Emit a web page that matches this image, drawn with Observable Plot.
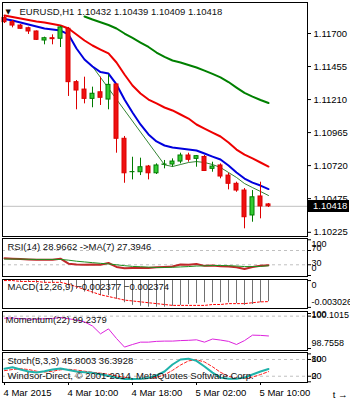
<!DOCTYPE html>
<html>
<head>
<meta charset="utf-8">
<script src="https://cdn.jsdelivr.net/npm/d3@7"></script>
<script src="https://cdn.jsdelivr.net/npm/@observablehq/plot@0.6"></script>
<style>
  html, body { margin: 0; padding: 0; background: #fff; }
  #chart { position: relative; width: 350px; height: 400px; overflow: hidden; background: #fff; }
  #chart svg { position: absolute; left: 0; }
</style>
</head>
<body>
<div id="chart"></div>
<script>
// ---------------- data ----------------
const symbol = "EURUSD,H1";
const times = [
  "2015-03-04T02:00Z","2015-03-04T03:00Z","2015-03-04T04:00Z","2015-03-04T05:00Z","2015-03-04T06:00Z",
  "2015-03-04T07:00Z","2015-03-04T08:00Z","2015-03-04T09:00Z","2015-03-04T10:00Z","2015-03-04T11:00Z",
  "2015-03-04T12:00Z","2015-03-04T13:00Z","2015-03-04T14:00Z","2015-03-04T15:00Z","2015-03-04T16:00Z",
  "2015-03-04T17:00Z","2015-03-04T18:00Z","2015-03-04T19:00Z","2015-03-04T20:00Z","2015-03-04T21:00Z",
  "2015-03-04T22:00Z","2015-03-04T23:00Z","2015-03-05T00:00Z","2015-03-05T01:00Z","2015-03-05T02:00Z",
  "2015-03-05T03:00Z","2015-03-05T04:00Z","2015-03-05T05:00Z","2015-03-05T06:00Z","2015-03-05T07:00Z",
  "2015-03-05T08:00Z","2015-03-05T09:00Z","2015-03-05T10:00Z","2015-03-05T11:00Z"
];
const open  = [1.11816,1.11784,1.11759,1.11739,1.11715,1.11648,1.11665,1.11661,1.11735,1.11339,1.11284,1.11215,1.11264,1.11210,1.11322,1.10919,1.10671,1.10671,1.10713,1.10663,1.10726,1.10728,1.10750,1.10795,1.10770,1.10784,1.10696,1.10721,1.10646,1.10585,1.10535,1.10350,1.10491,1.10432];
const high  = [1.11834,1.11796,1.11767,1.11747,1.11719,1.11673,1.11690,1.11754,1.11745,1.11351,1.11376,1.11302,1.11376,1.11394,1.11327,1.10936,1.10782,1.10775,1.10721,1.10733,1.10758,1.10770,1.10812,1.10812,1.10795,1.10795,1.10745,1.10733,1.10663,1.10597,1.10550,1.10535,1.10597,1.10439];
const low   = [1.11774,1.11742,1.11730,1.11693,1.11648,1.11616,1.11616,1.11596,1.11233,1.11134,1.11178,1.11149,1.11166,1.11134,1.10812,1.10589,1.10614,1.10646,1.10614,1.10654,1.10696,1.10708,1.10733,1.10745,1.10708,1.10676,1.10671,1.10622,1.10540,1.10522,1.10251,1.10300,1.10325,1.10409];
const close = [1.11784,1.11759,1.11735,1.11715,1.11653,1.11665,1.11658,1.11745,1.11339,1.11277,1.11215,1.11253,1.11223,1.11319,1.10919,1.10663,1.10672,1.10708,1.10663,1.10721,1.10728,1.10750,1.10795,1.10763,1.10790,1.10680,1.10713,1.10639,1.10585,1.10535,1.10337,1.10485,1.10417,1.10418];

const maBlue  = [1.11808,1.11797,1.11782,1.11767,1.11752,1.11737,1.11730,1.11722,1.11693,1.11589,1.11507,1.11455,1.11414,1.11403,1.11322,1.11210,1.11114,1.11025,1.10951,1.10899,1.10869,1.10854,1.10847,1.10839,1.10832,1.10810,1.10787,1.10765,1.10721,1.10669,1.10624,1.10594,1.10572,1.10546];
const maRed   = [1.11834,1.11822,1.11811,1.11800,1.11789,1.11782,1.11771,1.11759,1.11737,1.11693,1.11648,1.11611,1.11581,1.11552,1.11485,1.11396,1.11314,1.11255,1.11210,1.11181,1.11151,1.11129,1.11099,1.11069,1.11025,1.10995,1.10965,1.10936,1.10891,1.10839,1.10802,1.10773,1.10743,1.10713];
const maGreen = [null,null,null,null,null,null,null,null,null,null,1.11826,1.11804,1.11784,1.11763,1.11737,1.11700,1.11667,1.11633,1.11600,1.11559,1.11526,1.11500,1.11485,1.11466,1.11448,1.11425,1.11400,1.11374,1.11340,1.11299,1.11259,1.11232,1.11207,1.11184];
const thinLine = [null,null,null,null,null,null,null,null,null,null,null,1.11455,null,null,null,null,null,null,null,null,1.10726,1.10713,1.10728,1.10743,1.10750,1.10743,1.10728,1.10706,1.10669,1.10632,1.10587,1.10557,1.10528,1.10498];

const priceTicks = [1.11700, 1.11455, 1.11210, 1.10965, 1.10720, 1.10475, 1.10225];

const rsi   = [48,47,46,45,44,44,44,47,33,31,30,31,30,35,24,20,21,22,21,23,24,25,31,30,32,27,28,26,25,23,18,24,27,28.9662];
const rsiMa = [46,46,46,45.5,45,45,45,45,43,40,38,36,34,32.5,30,27.5,25.5,24.5,23.5,22.5,22.5,23,24,25,26.5,27,28,28,27.5,26.5,25,25,25.5,27.3946];
const rsiLevels = [70, 30];
const rsiTickValues = [100, 70, 30, 0];
const rsiTickLabels = ["100", "70", "30", "0"];

const macd   = [-0.0001,-0.0001,-0.0002,-0.0002,-0.0003,-0.0003,-0.0003,-0.0002,-0.0006,-0.0010,-0.0013,-0.0015,-0.0017,-0.0017,-0.0021,-0.0025,-0.0028,-0.0029,-0.0030,-0.0030,-0.0030,-0.0029,-0.0028,-0.0027,-0.0026,-0.0025,-0.0025,-0.0025,-0.0025,-0.0026,-0.0028,-0.0027,-0.0025,-0.002377];
const signal = [0.0000,-0.0000,-0.0001,-0.0001,-0.0001,-0.0002,-0.0002,-0.0002,-0.0004,-0.0007,-0.0010,-0.0013,-0.0016,-0.0018,-0.0020,-0.0022,-0.0023,-0.0024,-0.0025,-0.0026,-0.0027,-0.0028,-0.0028,-0.0028,-0.0028,-0.0028,-0.0027,-0.0027,-0.0026,-0.0026,-0.0026,-0.0025,-0.0024,-0.002374];
const macdTickValues = [0, -0.003026];
const macdTickLabels = ["0", "-0.003026"];

const momentum = [99.92,99.93,99.90,99.89,99.88,99.90,99.91,99.95,99.90,99.85,99.78,99.62,99.32,99.51,99.14,98.81,98.91,99.00,99.00,99.03,99.04,99.04,99.06,99.07,99.09,99.00,99.12,99.08,99.03,98.91,99.06,99.27,99.26,99.2379];
const momLevels = [100];
const momTickValues = [100, 100.1015, 98.7558];
const momTickLabels = ["100", "100.1015", "98.7558"];

const stochMain   = [47,52,44,37,33,38,44,48,42,37,34,32,27,22,15,10,10,11,14,23,37,62,80,83,75,55,33,15,11,11,15,26,37,45.8003];
const stochSignal = [40,44,47,44,38,35,38,43,45,42,38,34,31,27,21,16,12,10,12,16,25,41,60,75,79,71,54,34,20,12,12,17,26,36.3928];
const stochLevels = [80, 20];
const stochTickValues = [100, 80, 20, 0];
const stochTickLabels = ["100", "80", "20", "0"];

const xTickTimes  = ["2015-03-04T02:00Z","2015-03-04T10:00Z","2015-03-04T18:00Z","2015-03-05T02:00Z","2015-03-05T10:00Z"];
const xTickLabels = ["4 Mar 2015","4 Mar 10:00","4 Mar 18:00","5 Mar 02:00","5 Mar 10:00"];
const copyright = "Windsor-Direct, \u00A9 2001-2014, MetaQuotes Software Corp.";

// ---------------- rendering ----------------
const FONT = "'Liberation Sans', Arial, sans-serif";
const FS = 9.5;
const FS_R = 9;
const W = 350, ML = 2, MR = 43;
const HOUR = 3600 * 1000;
const t = times.map(s => new Date(s));
const xDomain = [new Date(+t[0] - 0.25 * HOUR), new Date(+t[0] + 37.875 * HOUR)];
const rows = t.map((d, i) => ({i, t: d, o: open[i], h: high[i], l: low[i], c: close[i]}));
const last = rows.length - 1;
const f5 = d3.format(".5f"), f4 = d3.format(".4f"), f6 = d3.format(".6f");

const BULL_FILL = "#33cc33", BULL_EDGE = "#007a00";
const BEAR_FILL = "#ee1111", BEAR_EDGE = "#dd0000";
const LEVEL = {stroke: "#c0c0c0", strokeDasharray: "3,3"};

function panel(top, height, mt, mb, y, marks, x = {}) {
  const svg = Plot.plot({
    width: W, height,
    marginLeft: ML, marginRight: MR, marginTop: mt, marginBottom: mb,
    style: {background: "transparent", fontFamily: FONT, fontSize: FS + "px", overflow: "visible"},
    x: {type: "utc", domain: xDomain, axis: null, ...x},
    y: {label: null, ...y},
    color: {type: "identity"},
    marks
  });
  svg.style.top = top + "px";
  document.getElementById("chart").appendChild(svg);
}

function title(str, dx, dy, opts = {}) {
  return Plot.text([str], {frameAnchor: "top-left", text: d => d, textAnchor: "start", lineAnchor: "middle",
    dx, dy, fill: "#111", fontSize: FS, ...opts});
}

function rightLabels(labels, values, dys) {
  return labels.map((s, i) => Plot.text([values[i]], {
    y: d => d, text: () => s, frameAnchor: "right", textAnchor: "start", lineAnchor: "middle",
    dx: 4, dy: dys[i], fill: "#000", fontSize: FS_R
  }));
}

const pick = arr => rows.filter(r => arr[r.i] != null);

// ---- main price panel ----
const lastClose = close[last];
function priceBox(index, scales, values, dims) {
  const y = scales.y(lastClose);
  const x0 = dims.width - dims.marginRight;
  const g = d3.create("svg:g");
  g.append("rect").attr("x", x0 + 1).attr("y", Math.round(y) - 6).attr("width", dims.marginRight - 2).attr("height", 12).attr("fill", "#000");
  g.append("text").attr("x", x0 + 6).attr("y", y).attr("dy", "0.35em").attr("fill", "#fff")
    .attr("text-anchor", "start").attr("font-size", FS).attr("font-family", FONT).text(f5(lastClose));
  return g.node();
}

panel(0, 237, 2, 1,
  {domain: [1.10194, 1.11930], axis: "right", ticks: priceTicks, tickFormat: f5, tickSize: 3, tickPadding: 3},
  [
    Plot.ruleY([lastClose], {stroke: "#c0c0c0"}),
    Plot.line(pick(maGreen), {x: "t", y: r => maGreen[r.i], stroke: "#008000", strokeWidth: 2}),
    Plot.line(pick(maRed), {x: "t", y: r => maRed[r.i], stroke: "#ee0000", strokeWidth: 2}),
    Plot.line(pick(thinLine), {x: "t", y: r => thinLine[r.i], stroke: "#006400", strokeWidth: 0.8}),
    Plot.line(rows, {x: "t", y: r => maBlue[r.i], stroke: "#0000dd", strokeWidth: 2}),
    Plot.ruleX(rows, {x: "t", y1: "l", y2: "h", stroke: r => r.c >= r.o ? BULL_EDGE : BEAR_EDGE, strokeWidth: 1}),
    Plot.rect(rows, {
      x1: r => new Date(+r.t - 0.25 * HOUR), x2: r => new Date(+r.t + 0.25 * HOUR),
      y1: "o", y2: "c",
      fill: r => r.c >= r.o ? BULL_FILL : BEAR_FILL,
      stroke: r => r.c >= r.o ? BULL_EDGE : BEAR_EDGE, strokeWidth: 1
    }),
    Plot.frame({stroke: "#000"}),
    title("\u25BC", 3, 9, {fontFamily: "DejaVu Sans", fontSize: 7}),
    title(`${symbol} ${f5(open[last])} ${f5(high[last])} ${f5(low[last])} ${f5(close[last])}`, 17, 9),
    priceBox
  ]);

// ---- RSI panel ----
panel(237, 41, 1, 2,
  {domain: [-2.8, 103.6], axis: "right", ticks: rsiTickValues, tickFormat: () => "", tickSize: 3},
  [
    Plot.ruleY(rsiLevels, LEVEL),
    Plot.line(rows, {x: "t", y: r => rsi[r.i], stroke: "#c0282a", strokeWidth: 2}),
    Plot.line(rows, {x: "t", y: r => rsiMa[r.i], stroke: "#1f8f1f", strokeWidth: 1}),
    Plot.frame({stroke: "#000"}),
    title(`RSI(14) ${f4(rsi[last])} ->MA(7) ${f4(rsiMa[last])}`, 5, 8),
    ...rightLabels(rsiTickLabels, rsiTickValues, [4.7, -2, -1.3, -7.5])
  ]);

// ---- MACD panel ----
panel(277, 32, 2, 1,
  {domain: [-0.00315, 0.00012], axis: "right", ticks: macdTickValues, tickFormat: () => "", tickSize: 3},
  [
    Plot.ruleX(rows, {x: "t", y1: 0, y2: r => macd[r.i], stroke: "#707070", strokeWidth: 1}),
    Plot.line(rows, {x: "t", y: r => signal[r.i], stroke: "#ff0000", strokeWidth: 1, strokeDasharray: "2,2"}),
    Plot.frame({stroke: "#000"}),
    title(`MACD(12,26,9) ${f6(macd[last])} ${f6(signal[last])}`, 5, 7),
    ...rightLabels(macdTickLabels, macdTickValues, [4.2, -5.4])
  ]);

// ---- Momentum panel ----
panel(309, 42, 2, 1,
  {domain: [98.6789, 100.1784], axis: "right", ticks: momTickValues, tickFormat: () => "", tickSize: 3},
  [
    Plot.ruleY(momLevels, LEVEL),
    Plot.line(rows, {x: "t", y: r => momentum[r.i], stroke: "#dd22dd", strokeWidth: 1}),
    Plot.frame({stroke: "#000"}),
    title(`Momentum(22) ${f4(momentum[last])}`, 3, 8),
    ...rightLabels(momTickLabels, momTickValues, [-2, 2, -5.3])
  ]);

// ---- Stochastic panel + time axis ----
panel(350, 50, 2, 18,
  {domain: [-2.5, 105], axis: "right", ticks: stochTickValues, tickFormat: () => "", tickSize: 3},
  [
    Plot.ruleY(stochLevels, LEVEL),
    Plot.line(rows, {x: "t", y: r => stochSignal[r.i], stroke: "#ff2020", strokeWidth: 1, strokeDasharray: "3,2"}),
    Plot.line(rows, {x: "t", y: r => stochMain[r.i], stroke: "#20b2aa", strokeWidth: 2}),
    Plot.frame({stroke: "#000"}),
    title(`Stoch(5,3,3) ${f4(stochMain[last])} ${f4(stochSignal[last])}`, 5, 8.5),
    title(copyright, 5, 23),
    ...rightLabels(stochTickLabels, stochTickValues, [5.6, 0, 0, -5.6]),
    Plot.text(xTickTimes.map((s, i) => ({t: new Date(s), s: xTickLabels[i]})), {
      x: "t", text: "s", frameAnchor: "bottom", textAnchor: "start", lineAnchor: "middle",
      dx: -1, dy: 10, fill: "#000", fontSize: FS
    })
  ],
  {axis: "bottom", ticks: xTickTimes.map(s => new Date(s)), tickFormat: () => "", tickSize: 3});
</script>
</body>
</html>
